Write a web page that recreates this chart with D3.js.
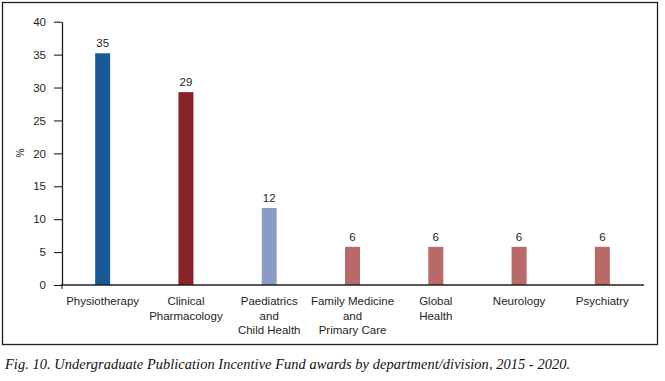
<!DOCTYPE html>
<html><head><meta charset="utf-8">
<script src="https://cdn.jsdelivr.net/npm/d3@7"></script>
<style>
body{margin:0;background:#fff;}
svg{display:block;}
</style></head>
<body>
<svg id="chart" width="665" height="381"></svg>
<script>
const categories = ["Physiotherapy", "Clinical Pharmacology", "Paediatrics and Child Health", "Family Medicine and Primary Care", "Global Health", "Neurology", "Psychiatry"];
const categoryLines = [["Physiotherapy"], ["Clinical", "Pharmacology"], ["Paediatrics", "and", "Child Health"], ["Family Medicine", "and", "Primary Care"], ["Global", "Health"], ["Neurology"], ["Psychiatry"]];
const values = [35.2, 29.3, 11.7, 5.8, 5.8, 5.8, 5.8];
const barColors = ["#175a96", "#892328", "#8a9cc6", "#b86968", "#b86968", "#b86968", "#b86968"];
const yTicks = [0, 5, 10, 15, 20, 25, 30, 35, 40];
const yLabel = "%";
const caption = "Fig. 10. Undergraduate Publication Incentive Fund awards by department/division, 2015 - 2020.";

const svg = d3.select("#chart");
const ink = "#231f20";
const font = "'Liberation Sans', Arial, sans-serif";

// frame
svg.append("rect").attr("x", 2.5).attr("y", 2.5).attr("width", 655).attr("height", 342)
  .attr("fill", "none").attr("stroke", ink).attr("stroke-width", 1.3);

const x = d3.scaleBand().domain(categories).range([61, 644]).paddingInner(0.82).paddingOuter(0.41);
const y = d3.scaleLinear().domain([0, 40]).range([285, 21.7]);

// bars
svg.append("g").selectAll("rect").data(categories).join("rect")
  .attr("x", d => x(d)).attr("width", x.bandwidth())
  .attr("y", (d, i) => y(values[i])).attr("height", (d, i) => y(0) - y(values[i]))
  .attr("fill", (d, i) => barColors[i]);

// value labels
svg.append("g").selectAll("text").data(categories).join("text")
  .attr("x", d => x(d) + x.bandwidth() / 2)
  .attr("y", (d, i) => y(values[i]) - 6)
  .attr("text-anchor", "middle")
  .attr("font-family", font).attr("font-size", 11.5).attr("fill", ink)
  .text((d, i) => Math.round(values[i]));

// y axis
const yAxis = d3.axisLeft(y).tickValues(yTicks).tickSize(8).tickPadding(8).tickSizeOuter(0);
const gy = svg.append("g").attr("transform", "translate(62,0)").call(yAxis);
gy.select(".domain").attr("stroke", ink).attr("stroke-width", 1.3);
gy.selectAll(".tick line").attr("stroke", ink).attr("stroke-width", 1.1);
gy.selectAll(".tick text").attr("font-family", font).attr("font-size", 11.5).attr("fill", ink);

// x axis line
const xAxis = d3.axisBottom(x).tickSize(0).tickFormat("");
const gx = svg.append("g").attr("transform", "translate(0,285)").call(xAxis);
gx.select(".domain").attr("stroke", ink).attr("stroke-width", 1.3).attr("d", "M61,0H644");
svg.append("line").attr("x1", 62).attr("x2", 62).attr("y1", 285).attr("y2", 289)
  .attr("stroke", ink).attr("stroke-width", 1.1);

// category labels
const lab = svg.append("g").selectAll("text").data(categories).join("text")
  .attr("text-anchor", "middle")
  .attr("font-family", font).attr("font-size", 11.5).attr("fill", ink);
lab.each(function(d, i) {
  const t = d3.select(this);
  categoryLines[i].forEach((ln, j) => {
    t.append("tspan").attr("x", x(d) + x.bandwidth() / 2).attr("y", 305 + j * 14.5).text(ln);
  });
});

// y label
svg.append("text").attr("transform", "translate(24,153) rotate(-90)")
  .attr("text-anchor", "middle").attr("font-family", font).attr("font-size", 10).attr("fill", ink)
  .text(yLabel);

// caption
svg.append("text").attr("x", 5).attr("y", 369)
  .attr("font-family", "'Liberation Serif', 'DejaVu Serif', serif").attr("font-style", "italic")
  .attr("font-size", 14.4).attr("fill", "#111")
  .attr("textLength", 565).attr("lengthAdjust", "spacing")
  .text(caption);
</script>
</body></html>
